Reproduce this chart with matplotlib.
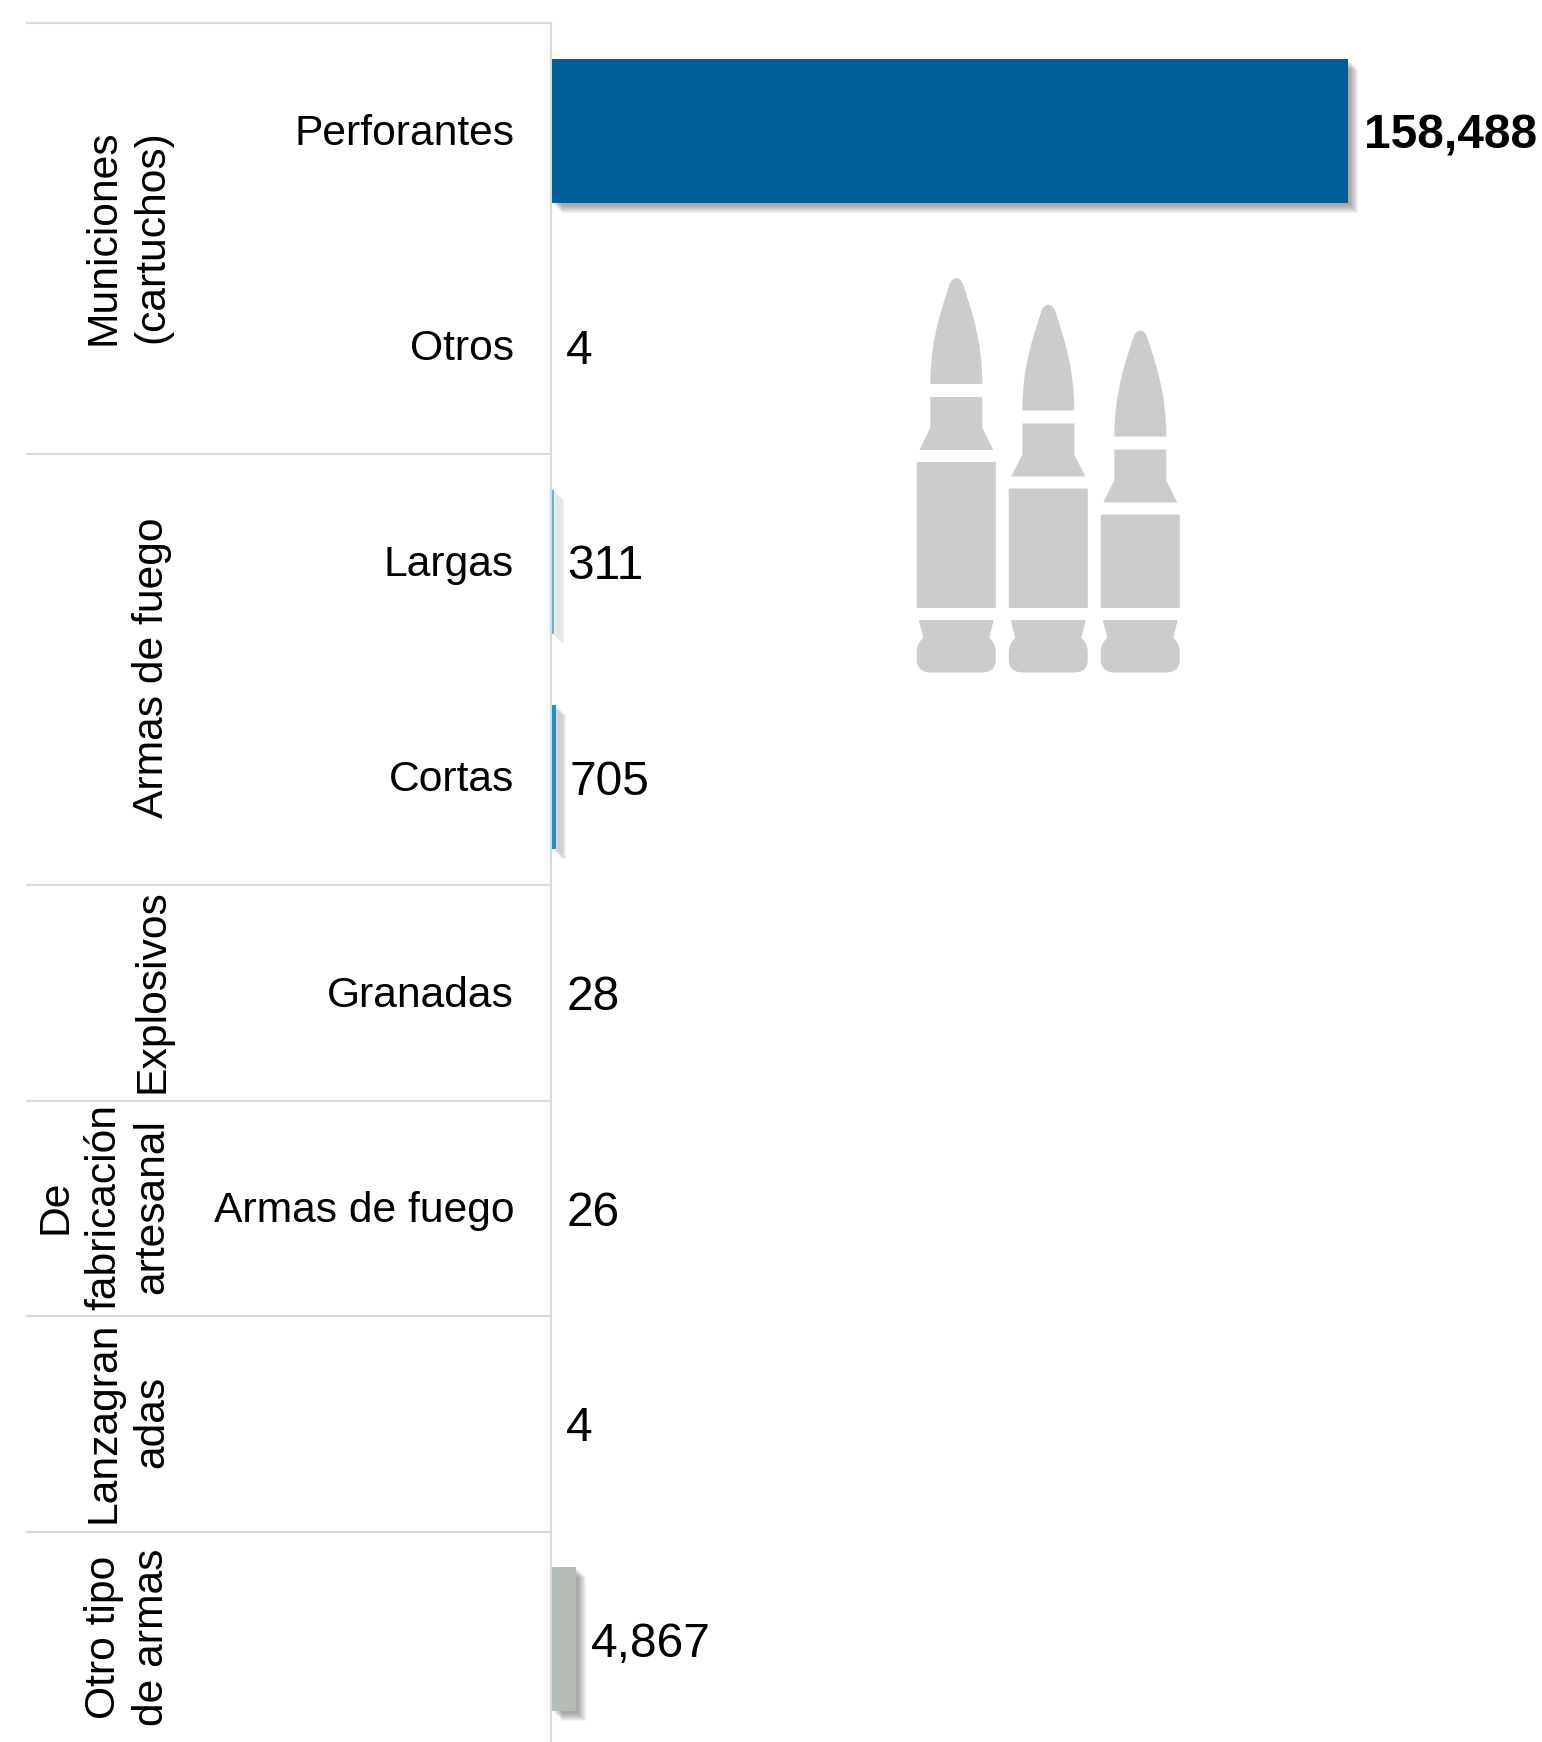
import matplotlib
matplotlib.use('Agg')
import matplotlib.pyplot as plt
import matplotlib.patheffects as pe
from matplotlib.path import Path
from matplotlib.patches import PathPatch

# === data ===
row_labels = ['Perforantes', 'Otros', 'Largas', 'Cortas', 'Granadas', 'Armas de fuego', '', '']
values = [158488, 4, 311, 705, 28, 26, 4, 4867]
bar_colors = ['#005f96', '#1f8fcc', '#5bb5dc', '#1f8fcc', '#1f8fcc', '#1f8fcc', '#1f8fcc', '#b5bbb5']
group_labels = ['Municiones\n(cartuchos)', 'Armas de fuego', 'Explosivos',
                'De\nfabricación\nartesanal', 'Lanzagran\nadas', 'Otro tipo\nde armas']
group_spans = [(0, 1), (2, 3), (4, 4), (5, 5), (6, 6), (7, 7)]

W, H = 1542, 1742
plt.rcParams['font.family'] = ['Liberation Sans', 'DejaVu Sans']
fig = plt.figure(figsize=(W / 100, H / 100), dpi=100)

# full figure overlay in pixels, for the table lines and the icon
bg = fig.add_axes([0, 0, 1, 1])
bg.set_xlim(0, W)
bg.set_ylim(H, 0)
bg.axis('off')

axis_x = 552
top = 23
row_h = 215.5
bar_right = 1348

ax = fig.add_axes([axis_x / W, 0, (bar_right - axis_x) / W, (H - top) / H])
ax.patch.set_alpha(0)
ax.set_xlim(0, values[0])
ax.set_ylim((H - top) / row_h - 0.5, -0.5)
ax.axis('off')

# === bars ===
shadow = [pe.SimplePatchShadow(offset=(d * 0.72, -d * 0.72), shadow_rgbFace='#555555', alpha=0.075)
          for d in (10, 9, 8, 7, 6, 5, 4, 3, 2)] + [pe.Normal()]
y_pos = list(range(len(values)))
bars = ax.barh(y_pos, values, height=144 / row_h, color=bar_colors, linewidth=0)
for b in bars:
    b.set_path_effects(shadow)
    b.set_clip_on(False)

# === value labels ===
for i, v in enumerate(values):
    is_max = v == max(values)
    ax.annotate(f'{v:,}', (v, i), xytext=(16 if is_max else 14, 0), textcoords='offset pixels',
                va='center_baseline', ha='left', fontsize=34.5, color='black',
                fontweight='bold' if is_max else 'normal')

# === table lines and labels ===
line_c = '#d9d9d9'
bg.plot([axis_x - 1, axis_x - 1], [top, H], color=line_c, lw=1.5)
for g in group_spans:
    yy = top + g[0] * row_h
    bg.plot([27, axis_x - 1], [yy, yy], color=line_c, lw=1.5)

for i, lab in enumerate(row_labels):
    bg.text(514, top + (i + 0.5) * row_h + 3, lab, ha='right', va='center', fontsize=30.7, color='black')

for lab, g in zip(group_labels, group_spans):
    yc = top + (g[0] + g[1] + 1) / 2 * row_h - 1.5
    bg.text(172, yc, lab, rotation=90, ha='right', va='center', ma='center',
            fontsize=30.7, linespacing=1.26, color='black')

# === bullets icon ===
def bullet(cx, shift):
    # upper part moves with shift, the base stays put
    s = shift
    verts = [
        (cx - 26, 384 + s), (cx - 26, 340 + s), (cx - 15, 310 + s), (cx - 7, 285 + s),
        (cx - 4, 276 + s), (cx + 4, 276 + s), (cx + 7, 285 + s),
        (cx + 15, 310 + s), (cx + 26, 340 + s), (cx + 26, 384 + s), (cx - 26, 384 + s),
    ]
    codes = [Path.MOVETO, Path.CURVE4, Path.CURVE4, Path.CURVE4,
             Path.CURVE4, Path.CURVE4, Path.CURVE4,
             Path.CURVE4, Path.CURVE4, Path.CURVE4, Path.CLOSEPOLY]
    # neck and shoulder
    verts += [(cx - 26, 397 + s), (cx + 26, 397 + s), (cx + 26, 428 + s), (cx + 37, 450 + s),
              (cx - 37, 450 + s), (cx - 26, 428 + s), (cx - 26, 397 + s)]
    codes += [Path.MOVETO] + [Path.LINETO] * 5 + [Path.CLOSEPOLY]
    # body
    verts += [(cx - 39.5, 462 + s), (cx + 39.5, 462 + s), (cx + 39.5, 608), (cx - 39.5, 608), (cx - 39.5, 462 + s)]
    codes += [Path.MOVETO] + [Path.LINETO] * 3 + [Path.CLOSEPOLY]
    # base
    verts += [(cx - 37.5, 620), (cx + 37.5, 620), (cx + 33, 638),
              (cx + 39.5, 643), (cx + 39.5, 652), (cx + 39.5, 660),
              (cx + 39.5, 672.5), (cx + 28, 672.5), (cx + 25, 672.5),
              (cx - 25, 672.5),
              (cx - 28, 672.5), (cx - 39.5, 672.5), (cx - 39.5, 660),
              (cx - 39.5, 652), (cx - 39.5, 643), (cx - 33, 638),
              (cx - 37.5, 620)]
    codes += [Path.MOVETO, Path.LINETO, Path.LINETO,
              Path.CURVE3, Path.CURVE3, Path.LINETO,
              Path.CURVE4, Path.CURVE4, Path.CURVE4,
              Path.LINETO,
              Path.CURVE4, Path.CURVE4, Path.CURVE4,
              Path.LINETO, Path.CURVE3, Path.CURVE3,
              Path.CLOSEPOLY]
    return Path(verts, codes)

for cx, shift in [(956.3, 0), (1048.3, 26.5), (1140.3, 52.5)]:
    bg.add_patch(PathPatch(bullet(cx, shift), facecolor='#cccccc', edgecolor='none'))

fig.savefig('out.png', dpi=100, facecolor='white')
